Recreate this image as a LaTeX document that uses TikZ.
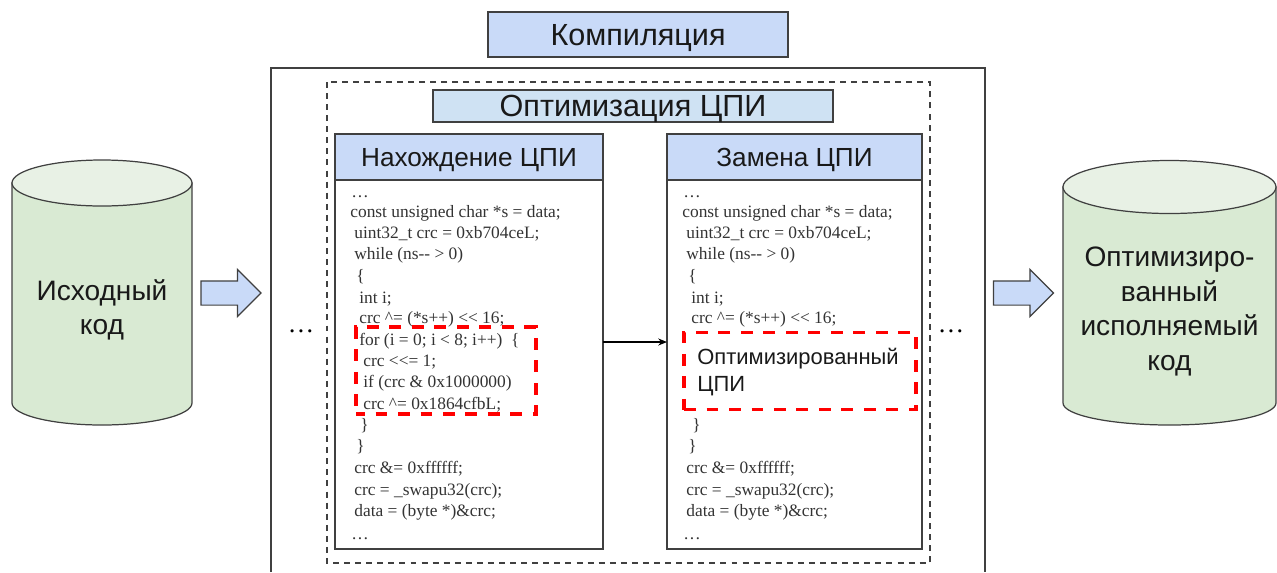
\documentclass[tikz,border=0pt]{standalone}
\usepackage{fontspec}
\setmainfont{Liberation Serif}
\newfontfamily\labelfont{Liberation Sans}
\usetikzlibrary{shapes.arrows,arrows.meta}
\definecolor{headblue}{HTML}{C9DAF8}
\definecolor{optblue}{HTML}{CFE2F3}
\definecolor{cylbody}{HTML}{D9EAD3}
\definecolor{cyltop}{HTML}{E8F1E5}
\definecolor{framegray}{HTML}{404040}
\tikzset{
  headbox/.style={draw=framegray, line width=0.8pt, inner sep=0pt, text=black!90, text depth=0pt},
  codetext/.style={anchor=base west, inner sep=0pt, font=\fontsize{9.9}{11}\selectfont, text=black!80},
  dotstext/.style={inner sep=0pt, font=\fontsize{15}{18}\selectfont},
  reddash/.style={draw=red, line width=1.9pt, dash pattern=on 6.8pt off 6pt},
  blockarrow/.style={single arrow, draw=framegray, fill=headblue, line width=0.7pt, inner sep=0pt,
    text height=0.46cm, text depth=0pt, minimum height=1.2cm, single arrow head extend=0.23cm},
  cylside/.style={draw=framegray, line width=0.7pt, fill=cylbody},
  cylend/.style={draw=framegray, line width=0.7pt, fill=cyltop},
  cyltext/.style={inner sep=0pt, align=center, text=black!90, font=\labelfont\fontsize{16}{19.6}\selectfont}
}
\begin{document}
\begin{tikzpicture}[x=0.02cm,y=-0.02cm]
  \useasboundingbox (0,0) rectangle (1277,572);
  % outer frames
  \draw[framegray, line width=0.8pt] (271,572) -- (271,68) -- (985,68) -- (985,572);
  \draw[framegray, line width=0.8pt, dash pattern=on 3.4pt off 2.9pt] (327,82) rectangle (930,563);
  \node[headbox, fill=headblue, minimum width=6cm, minimum height=0.9cm, font=\labelfont\fontsize{17.4}{20}\selectfont] (compile) at (638,34.5) {Компиляция};
  \node[headbox, fill=optblue, minimum width=8cm, minimum height=0.64cm, font=\labelfont\fontsize{17.4}{20}\selectfont] (optimize) at (633,106) {Оптимизация ЦПИ};
  % the two code panels
  \draw[framegray, line width=0.8pt] (335,180) rectangle (603,549);
  \draw[framegray, line width=0.8pt] (667,180) rectangle (922,549);
  \node[headbox, fill=headblue, minimum width=5.36cm, minimum height=0.92cm, font=\labelfont\fontsize{14.9}{18}\selectfont] (find) at (469,157) {Нахождение ЦПИ};
  \node[headbox, fill=headblue, minimum width=5.1cm, minimum height=0.92cm, font=\labelfont\fontsize{14.9}{18}\selectfont] (replace) at (794.5,157) {Замена ЦПИ};
  % left code
  \node[codetext] (a1) at (351,197) {…};
  \node[codetext] (a2) at (350,217) {const unsigned char *s = data;};
  \node[codetext] (a3) at (354,238) {uint32\_t crc = 0xb704ceL;};
  \node[codetext] (a4) at (354,259) {while (ns-{}- > 0)};
  \node[codetext] (a5) at (356,281) {\{};
  \node[codetext] (a6) at (359,303) {int i;};
  \node[codetext] (a7) at (359,323) {crc \^{}= (*s++) <{}< 16;};
  \node[codetext] (a8) at (359,345) {for (i = 0; i < 8; i++)\ \ \{};
  \node[codetext] (a9) at (363,366) {crc <{}<= 1;};
  \node[codetext] (a10) at (363,387) {if (crc \& 0x1000000)};
  \node[codetext] (a11) at (363,409) {crc \^{}= 0x1864cfbL;};
  \node[codetext] (a12) at (360,430) {\}};
  \node[codetext] (a13) at (356,451) {\}};
  \node[codetext] (a14) at (354,473) {crc \&= 0xffffff;};
  \node[codetext] (a15) at (354,495) {crc = \_swapu32(crc);};
  \node[codetext] (a16) at (354,516) {data = (byte *)\&crc;};
  \node[codetext] (a17) at (351,539) {…};
  % right code
  \node[codetext] (b1) at (683,197) {…};
  \node[codetext] (b2) at (682,217) {const unsigned char *s = data;};
  \node[codetext] (b3) at (686,238) {uint32\_t crc = 0xb704ceL;};
  \node[codetext] (b4) at (686,259) {while (ns-{}- > 0)};
  \node[codetext] (b5) at (688,281) {\{};
  \node[codetext] (b6) at (691,303) {int i;};
  \node[codetext] (b7) at (691,323) {crc \^{}= (*s++) <{}< 16;};
  \node[codetext] (b12) at (692,430) {\}};
  \node[codetext] (b13) at (688,451) {\}};
  \node[codetext] (b14) at (686,473) {crc \&= 0xffffff;};
  \node[codetext] (b15) at (686,495) {crc = \_swapu32(crc);};
  \node[codetext] (b16) at (686,516) {data = (byte *)\&crc;};
  \node[codetext] (b17) at (683,539) {…};
  % red marks
  \node[reddash, dash phase=1.7pt, minimum width=3.6cm, minimum height=1.74cm] (oldloop) at (446,370.5) {};
  \node[reddash, minimum width=4.64cm, minimum height=1.54cm] (newloop) at (800,371) {};
  \node[anchor=west, inner sep=0pt, align=left, text=black!90, font=\labelfont\fontsize{12.5}{15.4}\selectfont] (newlooptext) at (697,372) {Оптимизированный\\ЦПИ};
  \coordinate (linkin) at (667,342);
  \coordinate (linkout) at (603,342);
  \draw[-{Stealth[length=5pt,width=4pt]}, line width=0.7pt] (linkout) -- (linkin);
  % stores and block arrows
  \draw[cylside] (12,183) -- (12,403) arc[start angle=180, end angle=0, x radius=90, y radius=22] -- (192,183) -- cycle;
  \draw[cylend] (102,183) ellipse[x radius=90, y radius=23];
  \draw[cylside] (1063,187) -- (1063,403) arc[start angle=180, end angle=0, x radius=106.5, y radius=22] -- (1276,187) -- cycle;
  \draw[cylend] (1169.5,187) ellipse[x radius=106.5, y radius=26.5];
  \node[cyltext] (sourcetext) at (102,310) {Исходный\\код};
  \node[cyltext] (targettext) at (1169.5,311.5) {Оптимизиро-\\ванный\\исполняемый\\код};
  \node[blockarrow] (inflow) at (225,293) {};
  \node[blockarrow] (outflow) at (1017.5,293) {};
  \node[dotstext] (leftdots) at (301,331) {…};
  \node[dotstext] (rightdots) at (951,331) {…};
\end{tikzpicture}
\end{document}
